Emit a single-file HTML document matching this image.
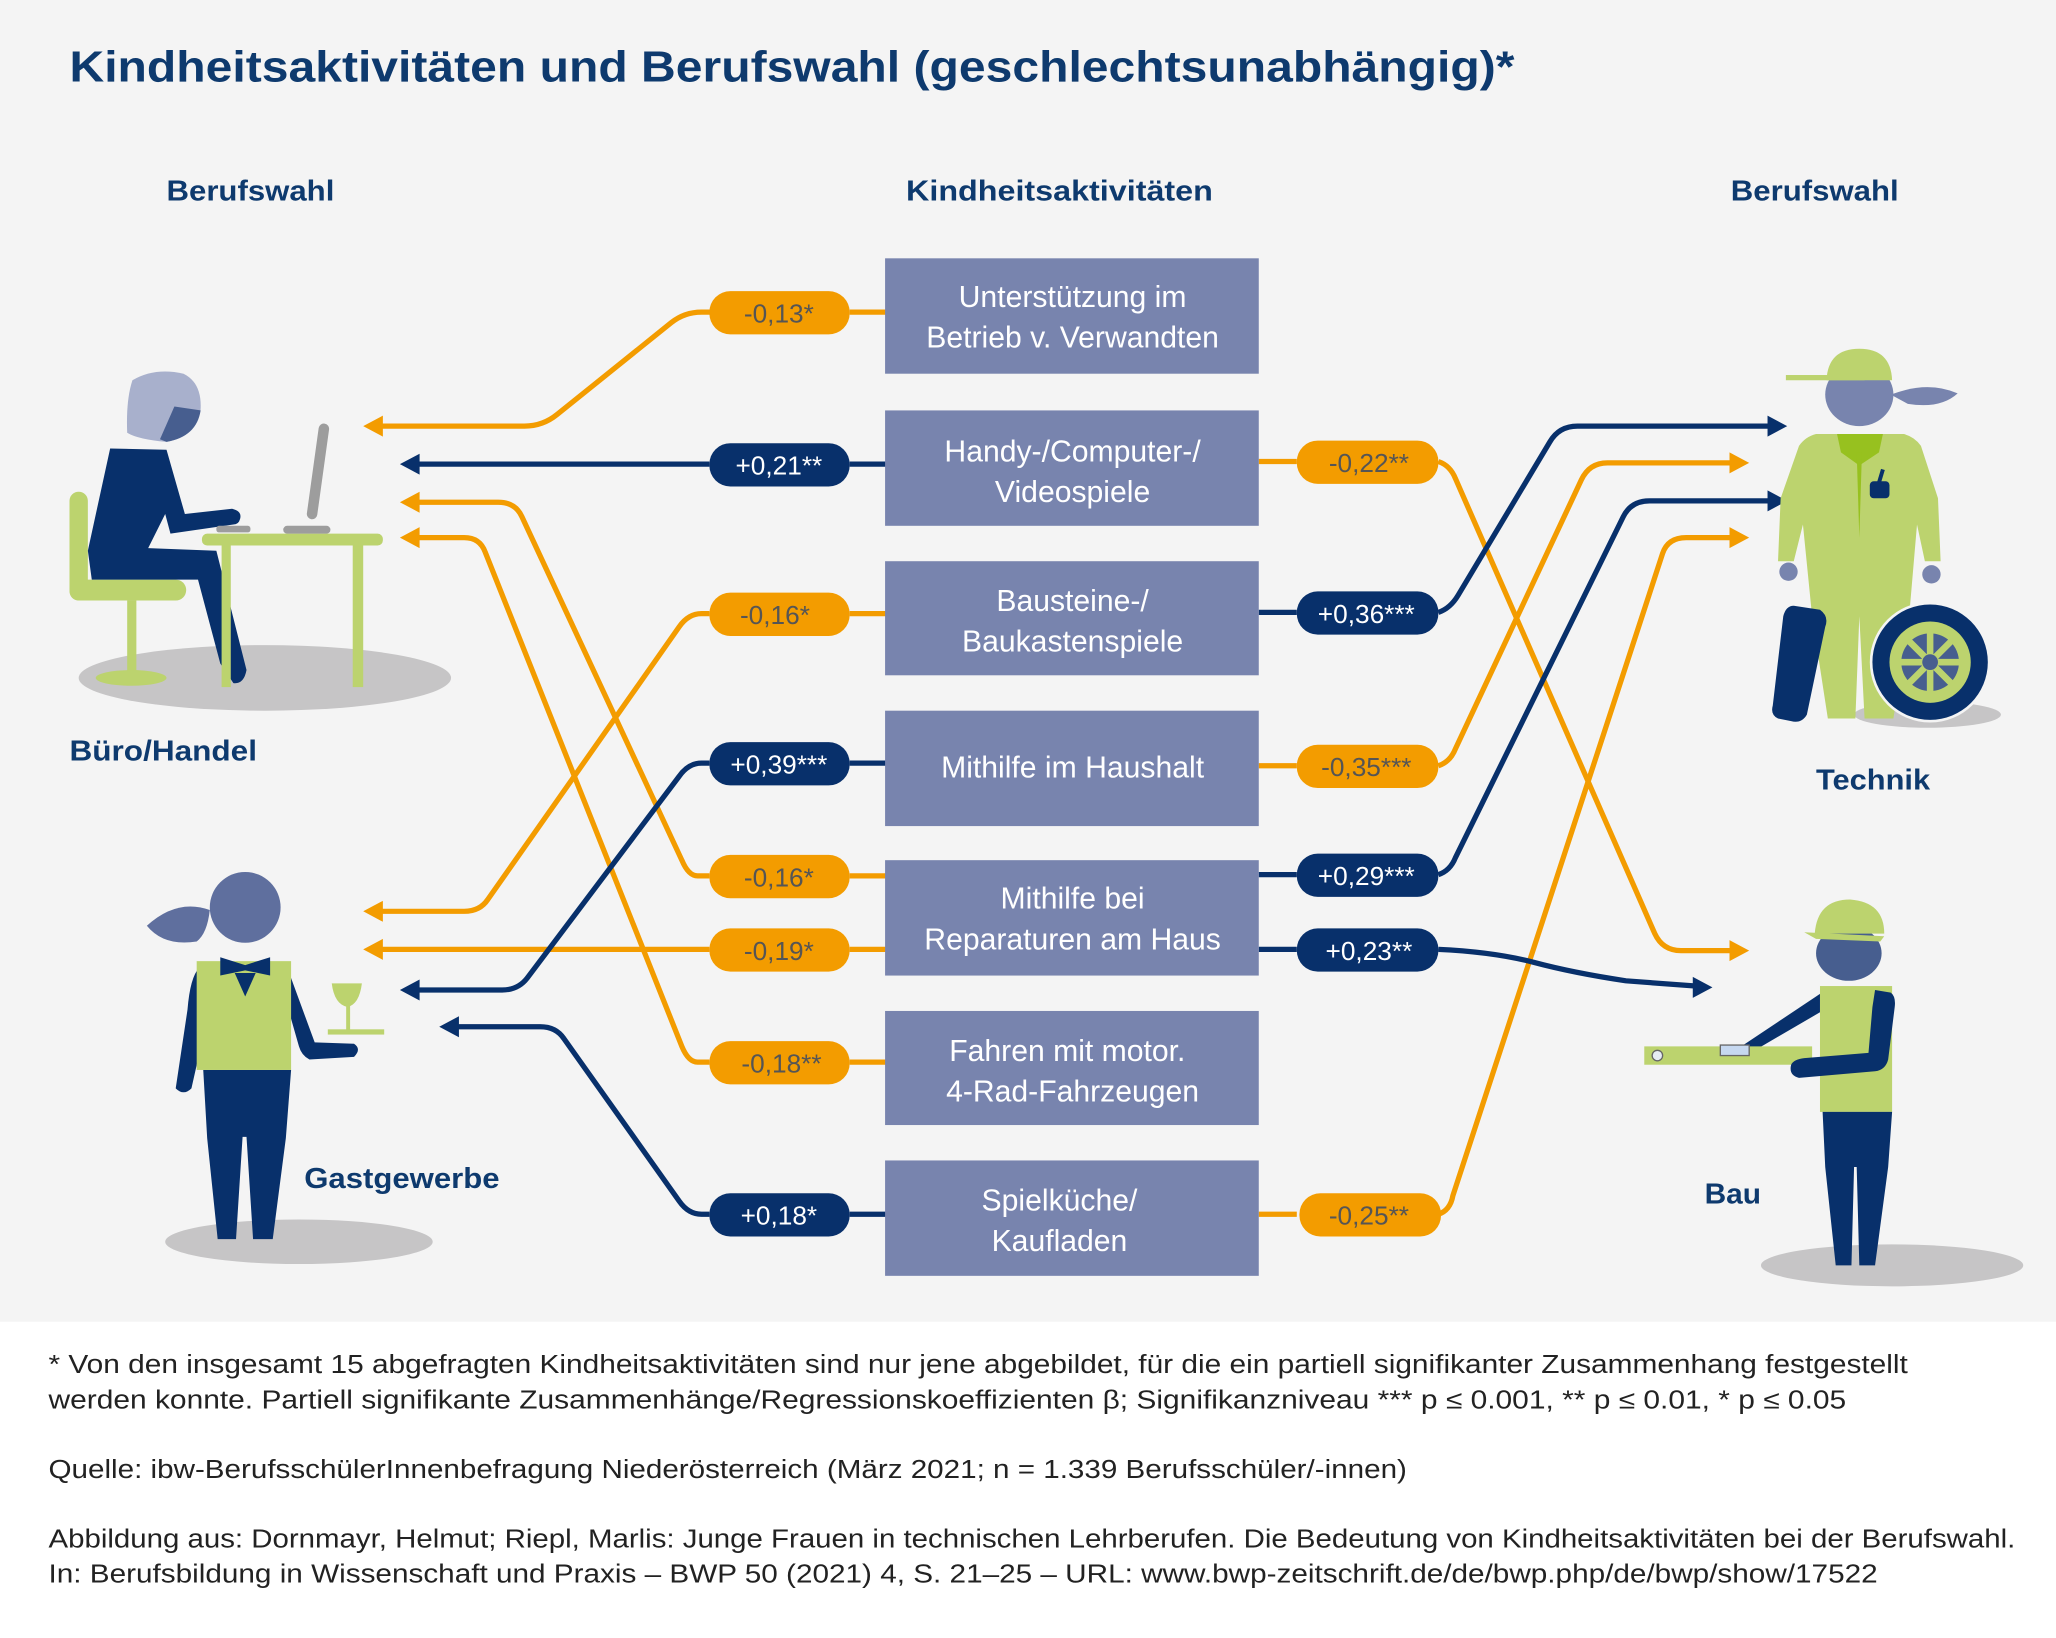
<!DOCTYPE html>
<html><head><meta charset="utf-8"><style>
html,body{margin:0;padding:0;background:#fff;}
svg{display:block;}
text{font-family:"Liberation Sans",sans-serif;}
</style></head><body>
<svg width="2056" height="1638" viewBox="0 0 1568 1249.2" preserveAspectRatio="none" xmlns="http://www.w3.org/2000/svg">
<defs>
<marker id="ao" markerWidth="8" markerHeight="8" refX="1" refY="4" orient="auto" markerUnits="userSpaceOnUse" viewBox="0 0 8 8"><path d="M0,4 L8,0 L8,8 Z" fill="#f39c00"/></marker>
</defs>
<rect x="0" y="0" width="1568" height="1008" fill="#f4f4f4"/>
<text x="53" y="62" font-size="33" font-weight="bold" fill="#0e3a6e" textLength="1102" lengthAdjust="spacingAndGlyphs">Kindheitsaktivitäten und Berufswahl (geschlechtsunabhängig)*</text>
<g font-size="22" font-weight="bold" fill="#0e3a6e">
<text x="127" y="153" textLength="128" lengthAdjust="spacingAndGlyphs">Berufswahl</text>
<text x="691" y="153" textLength="234" lengthAdjust="spacingAndGlyphs">Kindheitsaktivitäten</text>
<text x="1320" y="153" textLength="128" lengthAdjust="spacingAndGlyphs">Berufswahl</text>
<text x="53" y="580" textLength="143" lengthAdjust="spacingAndGlyphs">Büro/Handel</text>
<text x="232" y="906" textLength="149" lengthAdjust="spacingAndGlyphs">Gastgewerbe</text>
<text x="1385" y="602" textLength="87" lengthAdjust="spacingAndGlyphs">Technik</text>
<text x="1300" y="918" textLength="43" lengthAdjust="spacingAndGlyphs">Bau</text>
</g>

<!-- connectors -->
<g fill="none" stroke-width="4" stroke-linejoin="round">
<!-- left orange -->
<path d="M548,238 L535,238 Q522,238 512,246 L425,316 Q414,325 400,325 L290,325" stroke="#f39c00"/>
<path d="M541,668 L532,668 Q525,668 520,656 L398,394 Q393,383 380,383 L318,383" stroke="#f39c00"/>
<path d="M541,810 L532,810 Q525,810 520,798 L370,421 Q366,410 354,410 L318,410" stroke="#f39c00"/>
<path d="M541,468 L535,468 Q525,468 518,478 L372,686 Q366,695 354,695 L290,695" stroke="#f39c00"/>
<path d="M541,724 L290,724" stroke="#f39c00"/>
<!-- left navy -->
<path d="M541,354 L318,354" stroke="#08306b"/>
<path d="M541,582 L535,582 Q525,582 518,592 L402,746 Q395,755 383,755 L318,755" stroke="#08306b"/>
<path d="M541,926 L535,926 Q525,926 518,916 L430,792 Q424,783 412,783 L348,783" stroke="#08306b"/>
<!-- box connectors left -->
<path d="M648,238 L676,238" stroke="#f39c00"/>
<path d="M648,468 L676,468" stroke="#f39c00"/>
<path d="M648,668 L676,668" stroke="#f39c00"/>
<path d="M648,724 L676,724" stroke="#f39c00"/>
<path d="M648,810 L676,810" stroke="#f39c00"/>
<path d="M648,354 L676,354" stroke="#08306b"/>
<path d="M648,582 L676,582" stroke="#08306b"/>
<path d="M648,926 L676,926" stroke="#08306b"/>
<!-- right -->
<path d="M960,352 L989,352" stroke="#f39c00"/>
<path d="M960,584 L989,584" stroke="#f39c00"/>
<path d="M960,926 L989,926" stroke="#f39c00"/>
<path d="M960,467 L989,467" stroke="#08306b"/>
<path d="M960,667 L989,667" stroke="#08306b"/>
<path d="M960,724 L989,724" stroke="#08306b"/>
<path d="M1097,352 Q1106,355 1110,365 L1262,712 Q1268,725 1282,725 L1322,725" stroke="#f39c00"/>
<path d="M1097,584 Q1106,581 1110,571 L1206,366 Q1212,353 1226,353 L1322,353" stroke="#f39c00"/>
<path d="M1097,926 Q1106,923 1108,912 L1268,422 Q1272,410 1286,410 L1322,410" stroke="#f39c00"/>
<path d="M1097,467 Q1106,464 1112,454 L1182,337 Q1189,325 1203,325 L1350,325" stroke="#08306b"/>
<path d="M1097,667 Q1106,664 1110,654 L1238,394 Q1244,382 1258,382 L1350,382" stroke="#08306b"/>
<path d="M1097,724 Q1140,726 1170,734 Q1200,742 1240,748 L1293,752" stroke="#08306b"/>
</g>
<!-- arrowheads -->
<g>
<path d="M277,325 l15,-8 v16 z" fill="#f39c00"/>
<path d="M305,383 l15,-8 v16 z" fill="#f39c00"/>
<path d="M305,410 l15,-8 v16 z" fill="#f39c00"/>
<path d="M277,695 l15,-8 v16 z" fill="#f39c00"/>
<path d="M277,724 l15,-8 v16 z" fill="#f39c00"/>
<path d="M305,354 l15,-8 v16 z" fill="#08306b"/>
<path d="M305,755 l15,-8 v16 z" fill="#08306b"/>
<path d="M335,783 l15,-8 v16 z" fill="#08306b"/>
<path d="M1334,725 l-15,-8 v16 z" fill="#f39c00"/>
<path d="M1334,353 l-15,-8 v16 z" fill="#f39c00"/>
<path d="M1334,410 l-15,-8 v16 z" fill="#f39c00"/>
<path d="M1363,325 l-15,-8 v16 z" fill="#08306b"/>
<path d="M1363,382 l-15,-8 v16 z" fill="#08306b"/>
<path d="M1306,753 l-15,-8 v16 z" fill="#08306b"/>
</g>

<!-- boxes -->
<g fill="#7884ae">
<rect x="675" y="197" width="285" height="88"/>
<rect x="675" y="313" width="285" height="88"/>
<rect x="675" y="428" width="285" height="87"/>
<rect x="675" y="542" width="285" height="88"/>
<rect x="675" y="656" width="285" height="88"/>
<rect x="675" y="771" width="285" height="87"/>
<rect x="675" y="885" width="285" height="88"/>
</g>
<g font-size="23" fill="#fff" text-anchor="middle">
<text x="818" y="234">Unterstützung im</text>
<text x="818" y="265">Betrieb v. Verwandten</text>
<text x="818" y="352">Handy-/Computer-/</text>
<text x="818" y="383">Videospiele</text>
<text x="818" y="466">Bausteine-/</text>
<text x="818" y="497">Baukastenspiele</text>
<text x="818" y="593">Mithilfe im Haushalt</text>
<text x="818" y="693">Mithilfe bei</text>
<text x="818" y="724">Reparaturen am Haus</text>
<text x="814" y="809">Fahren mit motor.</text>
<text x="818" y="840">4-Rad-Fahrzeugen</text>
<text x="808" y="923">Spielküche/</text>
<text x="808" y="954">Kaufladen</text>
</g>

<!-- pills -->
<g>
<rect x="541" y="222" width="107" height="33" rx="16" fill="#f39c00"/>
<rect x="541" y="338" width="107" height="33" rx="16" fill="#08306b"/>
<rect x="541" y="452" width="107" height="33" rx="16" fill="#f39c00"/>
<rect x="541" y="566" width="107" height="33" rx="16" fill="#08306b"/>
<rect x="541" y="652" width="107" height="33" rx="16" fill="#f39c00"/>
<rect x="541" y="708" width="107" height="33" rx="16" fill="#f39c00"/>
<rect x="541" y="794" width="107" height="33" rx="16" fill="#f39c00"/>
<rect x="541" y="910" width="107" height="33" rx="16" fill="#08306b"/>
<rect x="989" y="336" width="108" height="33" rx="16" fill="#f39c00"/>
<rect x="989" y="451" width="108" height="33" rx="16" fill="#08306b"/>
<rect x="989" y="568" width="108" height="33" rx="16" fill="#f39c00"/>
<rect x="989" y="651" width="108" height="33" rx="16" fill="#08306b"/>
<rect x="989" y="708" width="108" height="33" rx="16" fill="#08306b"/>
<rect x="991" y="910" width="108" height="33" rx="16" fill="#f39c00"/>
</g>
<g font-size="20" text-anchor="middle">
<text x="594" y="246" fill="#555">-0,13*</text>
<text x="594" y="362" fill="#fff">+0,21**</text>
<text x="591" y="476" fill="#555">-0,16*</text>
<text x="594" y="590" fill="#fff">+0,39***</text>
<text x="594" y="676" fill="#555">-0,16*</text>
<text x="594" y="732" fill="#555">-0,19*</text>
<text x="596" y="818" fill="#555">-0,18**</text>
<text x="594" y="934" fill="#fff">+0,18*</text>
<text x="1044" y="360" fill="#555">-0,22**</text>
<text x="1042" y="475" fill="#fff">+0,36***</text>
<text x="1042" y="592" fill="#555">-0,35***</text>
<text x="1042" y="675" fill="#fff">+0,29***</text>
<text x="1044" y="732" fill="#fff">+0,23**</text>
<text x="1044" y="934" fill="#555">-0,25**</text>
</g>

<!-- Office figure -->
<ellipse cx="202" cy="517" rx="142" ry="25" fill="#c6c5c6"/>
<rect x="53" y="375" width="14" height="83" rx="7" fill="#bcd36e"/>
<rect x="53" y="442" width="89" height="16" rx="8" fill="#bcd36e"/>
<rect x="97" y="458" width="7" height="56" fill="#bcd36e"/>
<ellipse cx="100" cy="517" rx="27" ry="6" fill="#bcd36e"/>
<path d="M84,342 L127,343 L141,392 L177,388 Q185,390 183,396 Q182,400 178,400 L130,407 L126,392 L113,418 L165,420 L188,511 Q186,522 178,521 L168,506 L151,442 L70,442 L67,420 Z" fill="#08306b"/>
<path d="M101,290 Q118,280 140,285 Q154,292 153,312 Q150,333 127,337 Q105,335 97,330 Q96,305 101,290 Z" fill="#a8b0cc"/>
<path d="M133,310 L153,313 Q150,333 127,337 L122,335 Z" fill="#475e8f"/>
<rect x="154" y="407" width="138" height="9" rx="4" fill="#bcd36e"/>
<rect x="169" y="416" width="7" height="108" fill="#bcd36e"/>
<rect x="269" y="416" width="8" height="108" fill="#bcd36e"/>
<path d="M247,327 L238,392" stroke="#9d9d9d" stroke-width="8" stroke-linecap="round"/>
<rect x="216" y="401" width="36" height="6" rx="3" fill="#9d9d9d"/>
<rect x="165" y="401" width="26" height="5" rx="2" fill="#9d9d9d"/>

<!-- Waitress -->
<ellipse cx="228" cy="947" rx="102" ry="17" fill="#c6c5c6"/>
<path d="M160,694 Q135,685 112,706 Q125,722 150,718 Q158,712 160,694 Z" fill="#5f6f9e"/>
<circle cx="187" cy="692" r="27" fill="#5f6f9e"/>
<path d="M152,738 Q145,745 143,770 L134,830 Q140,836 146,830 L155,790 Z" fill="#08306b"/>
<path d="M218,735 L240,795 L270,796 Q276,800 270,806 L236,808 Q230,805 228,798 L220,770 Z" fill="#08306b"/>
<rect x="150" y="733" width="72" height="83" fill="#bcd36e"/>
<path d="M168,730 L187,736 L206,730 L206,744 L187,740 L168,744 Z" fill="#08306b"/>
<path d="M179,742 L187,760 L195,742 Z" fill="#08306b"/>
<path d="M155,816 L222,816 L218,868 L208,945 L193,945 L188,867 L185,867 L180,945 L166,945 L158,868 Z" fill="#08306b"/>
<path d="M253,750 L276,750 Q274,766 265,768 Q255,766 253,750 Z" fill="#bcd36e"/>
<rect x="264" y="766" width="3" height="20" fill="#bcd36e"/>
<rect x="250" y="785" width="43" height="4" fill="#bcd36e"/>

<!-- Technik -->
<ellipse cx="1470" cy="545" rx="56" ry="10" fill="#c6c5c6"/>
<path d="M1442,301 Q1470,290 1493,300 Q1480,312 1455,308 Z" fill="#7884ae"/>
<ellipse cx="1418" cy="301" rx="26" ry="24" fill="#7884ae"/>
<path d="M1393,290 Q1394,266 1418,266 Q1442,266 1443,290 Z" fill="#bcd36e"/>
<rect x="1362" y="286" width="60" height="4" fill="#bcd36e"/>
<path d="M1385,331 L1452,331 Q1460,333 1465,340 L1478,380 L1480,428 L1468,428 L1462,400 L1456,470 L1444,548 L1422,548 L1418,470 L1415,548 L1394,548 L1382,470 L1375,400 L1368,428 L1356,428 L1358,380 L1372,340 Q1377,333 1385,331 Z" fill="#bcd36e"/>
<path d="M1401,331 L1436,331 L1433,345 L1418,355 L1404,345 Z" fill="#97c11f"/>
<path d="M1416,345 L1420,345 L1418,410 Z" fill="#97c11f"/>
<rect x="1426" y="367" width="15" height="13" rx="3" fill="#08306b"/>
<path d="M1433,368 L1436,358" stroke="#08306b" stroke-width="3"/>
<ellipse cx="1364" cy="436" rx="7" ry="7" fill="#7884ae"/>
<ellipse cx="1473" cy="438" rx="7" ry="7" fill="#7884ae"/>
<path d="M1368,462 L1388,465 Q1395,470 1392,478 L1378,545 Q1374,552 1366,550 L1356,548 Q1350,545 1352,538 L1360,470 Q1362,462 1368,462 Z" fill="#08306b"/>
<circle cx="1472" cy="505" r="46" fill="#f4f4f4"/>
<circle cx="1472" cy="505" r="44" fill="#08306b"/>
<circle cx="1472" cy="505" r="31" fill="#bcd36e"/>
<circle cx="1472" cy="505" r="22" fill="#475e8f"/>
<g stroke="#bcd36e" stroke-width="5">
<path d="M1472,481 V529 M1448,505 H1496 M1455,488 L1489,522 M1489,488 L1455,522"/>
</g>
<circle cx="1472" cy="505" r="6" fill="#475e8f"/>

<!-- Bau -->
<ellipse cx="1443" cy="965" rx="100" ry="16" fill="#c6c5c6"/>
<ellipse cx="1410" cy="727" rx="25" ry="21" fill="#475e8f"/>
<path d="M1384,712 Q1386,686 1411,686 Q1437,688 1437,712 Z" fill="#bcd36e"/>
<path d="M1376,711 L1437,714 L1434,718 L1385,716 Z" fill="#bcd36e"/>
<rect x="1388" y="752" width="55" height="96" fill="#bcd36e"/>
<path d="M1388,758 L1325,800 L1340,800 L1388,772 Z" fill="#08306b"/>
<rect x="1254" y="798" width="128" height="14" fill="#bcd36e"/>
<rect x="1312" y="797" width="22" height="8" fill="#c6d8f0" stroke="#666" stroke-width="1"/>
<circle cx="1264" cy="805" r="4" fill="#e6ecf4" stroke="#666" stroke-width="1"/>
<path d="M1430,755 L1442,757 Q1446,760 1445,768 L1440,808 Q1438,816 1430,817 L1372,822 Q1364,820 1366,812 Q1368,808 1376,807 L1425,803 L1428,768 Z" fill="#08306b"/>
<path d="M1390,848 L1443,848 L1440,890 L1430,965 L1418,965 L1416,890 L1414,890 L1412,965 L1400,965 L1392,890 Z" fill="#08306b"/>

<!-- footer -->
<g font-size="19.5" fill="#222">
<text x="37" y="1047" textLength="1418" lengthAdjust="spacingAndGlyphs">* Von den insgesamt 15 abgefragten Kindheitsaktivitäten sind nur jene abgebildet, für die ein partiell signifikanter Zusammenhang festgestellt</text>
<text x="37" y="1074" textLength="1371" lengthAdjust="spacingAndGlyphs">werden konnte. Partiell signifikante Zusammenhänge/Regressionskoeffizienten β; Signifikanzniveau *** p ≤ 0.001, ** p ≤ 0.01, * p ≤ 0.05</text>
<text x="37" y="1127" textLength="1036" lengthAdjust="spacingAndGlyphs">Quelle: ibw-BerufsschülerInnenbefragung Niederösterreich (März 2021; n = 1.339 Berufsschüler/-innen)</text>
<text x="37" y="1180" textLength="1500" lengthAdjust="spacingAndGlyphs">Abbildung aus: Dornmayr, Helmut; Riepl, Marlis: Junge Frauen in technischen Lehrberufen. Die Bedeutung von Kindheitsaktivitäten bei der Berufswahl.</text>
<text x="37" y="1207" textLength="1395" lengthAdjust="spacingAndGlyphs">In: Berufsbildung in Wissenschaft und Praxis – BWP 50 (2021) 4, S. 21–25 – URL: www.bwp-zeitschrift.de/de/bwp.php/de/bwp/show/17522</text>
</g>
</svg>
</body></html>
